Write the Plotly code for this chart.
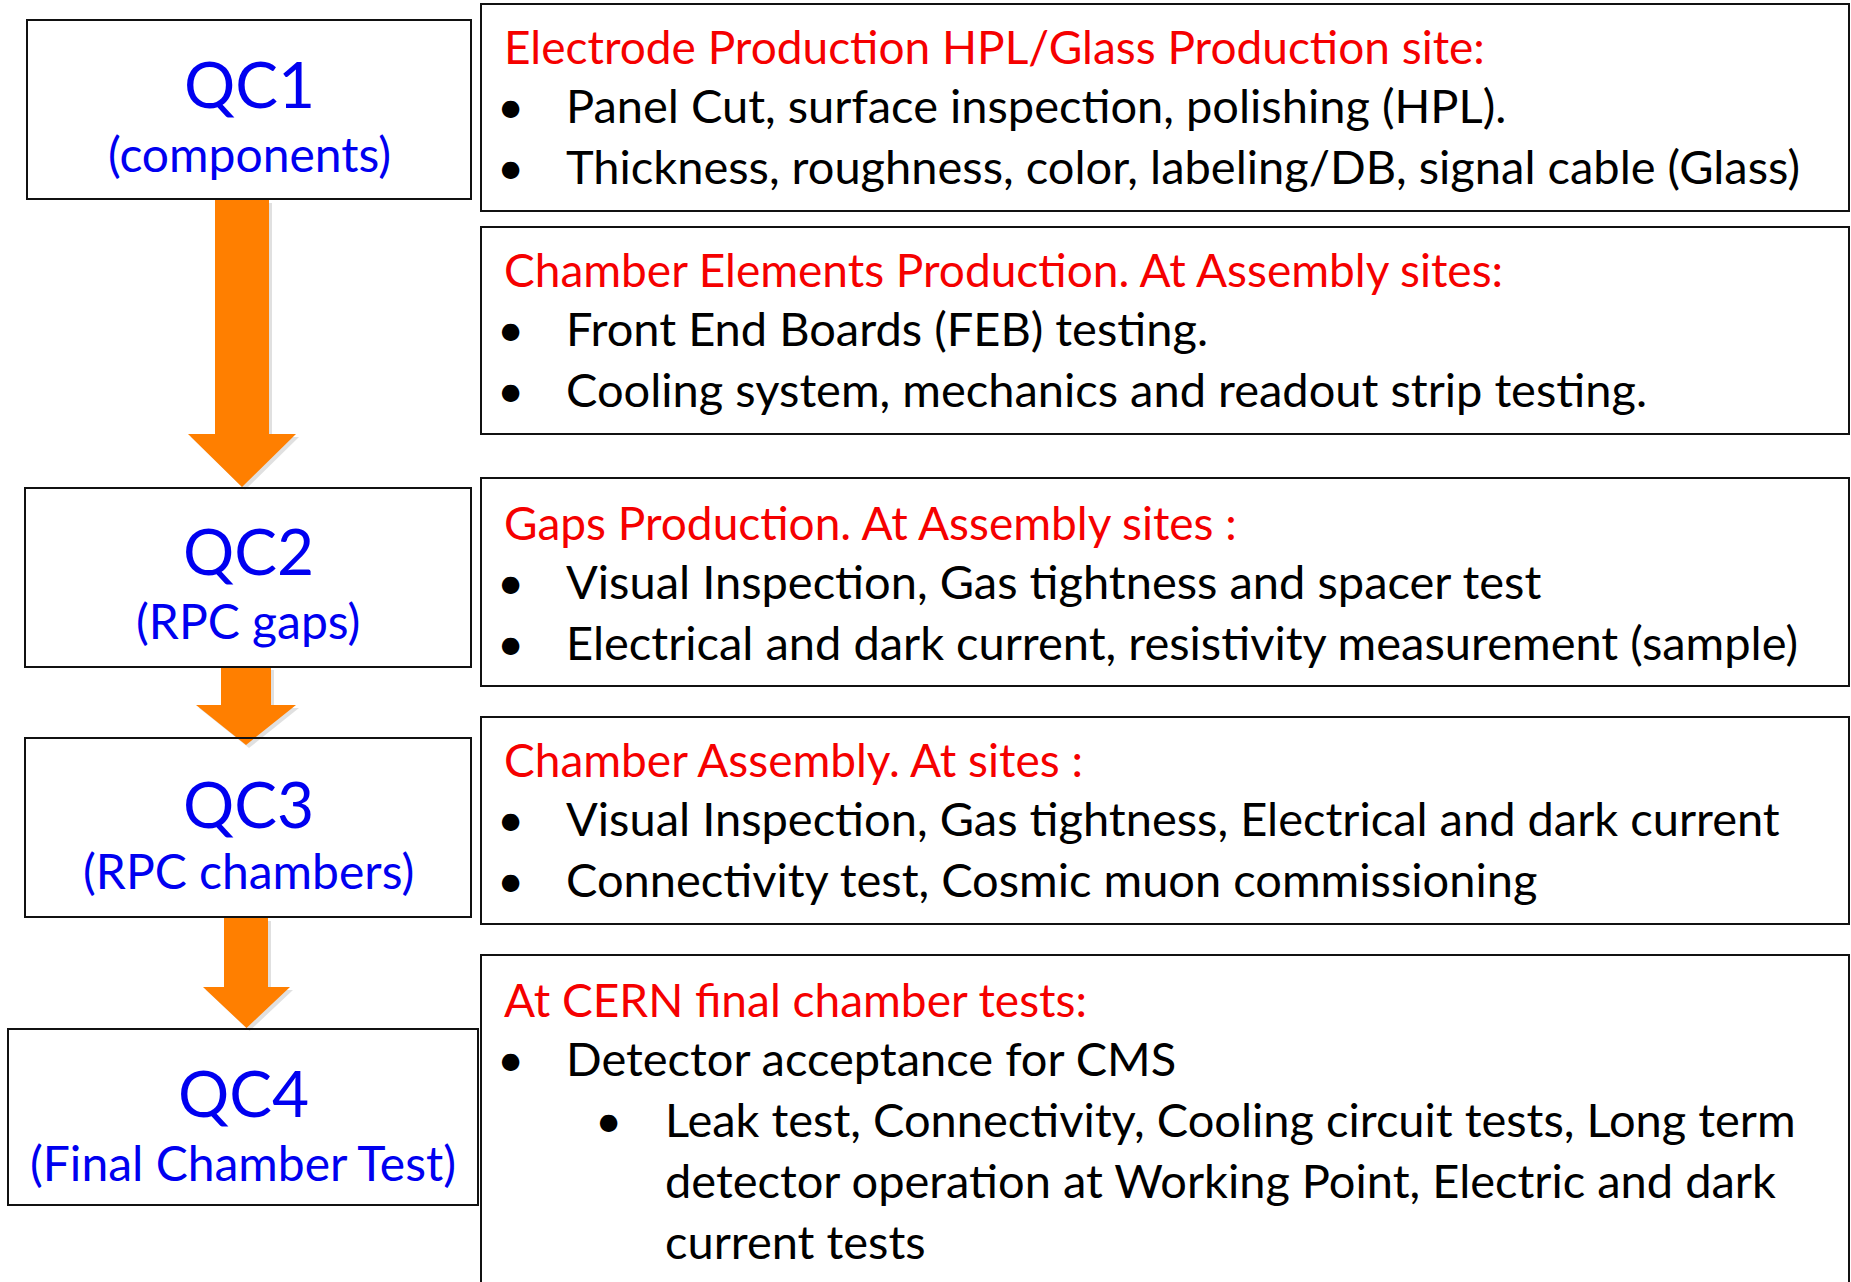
import plotly.graph_objects as go

# ---------------- content ----------------
qc_labels = ["QC1", "QC2", "QC3", "QC4"]
qc_sublabels = ["(components)", "(RPC gaps)", "(RPC chambers)", "(Final Chamber Test)"]

headers = [
    "Electrode Production HPL/Glass Production site:",
    "Chamber Elements Production. At Assembly sites:",
    "Gaps Production. At Assembly sites :",
    "Chamber Assembly. At sites :",
    "At CERN final chamber tests:",
]
bullets = [
    [(1, "Panel Cut, surface inspection, polishing (HPL)."),
     (1, "Thickness, roughness, color, labeling/DB, signal cable (Glass)")],
    [(1, "Front End Boards (FEB) testing."),
     (1, "Cooling system, mechanics and readout strip testing.")],
    [(1, "Visual Inspection, Gas tightness and spacer test"),
     (1, "Electrical and dark current, resistivity measurement (sample)")],
    [(1, "Visual Inspection, Gas tightness, Electrical and dark current"),
     (1, "Connectivity test, Cosmic muon commissioning")],
    [(1, "Detector acceptance for CMS"),
     (2, "Leak test, Connectivity, Cooling circuit tests, Long term"),
     (0, "detector operation at Working Point, Electric and dark"),
     (0, "current tests")],
]

# ---------------- layout geometry (pixels) ----------------
W, H = 1851, 1282
FONT = "Lato"
BLUE = "#0000F0"
RED = "#F50000"
ORANGE = "#FF7F00"

qc_boxes = [(27, 20, 471, 199), (25, 488, 471, 667), (25, 738, 471, 917), (8, 1029, 478, 1205)]
qc_centers = [249, 248, 248, 243]
qc_main_base = [108, 575, 828, 1117]
qc_sub_base = [172, 639, 889, 1181]
qc_main_size = 64
qc_sub_size = 48

right_boxes = [(481, 4, 1849, 211), (481, 227, 1849, 434), (481, 478, 1849, 686),
               (481, 717, 1849, 924), (481, 955, 1849, 1300)]
header_base = [64, 287, 540, 777, 1017]
line_step = 61
txt_size = 47
head_size = 46

# arrows: (shaft_x0, shaft_x1, y_top, y_neck, head_x0, head_x1, tip_y)
arrows = [(215, 269, 200, 434, 188, 296, 487),
          (221, 271, 667, 705, 196, 296, 745),
          (224, 268, 918, 987, 203, 290, 1028)]

K = 0.385  # baseline -> text-box-center offset factor


def yc(base, size):
    return base - K * size


fig = go.Figure()
shapes = []
ann = []

# arrows with subtle shadow
for (sx0, sx1, yt, yn, hx0, hx1, ty) in arrows:
    cx = (hx0 + hx1) / 2
    def path(dx, dy):
        pts = [(sx0, yt), (sx1, yt), (sx1, yn), (hx1, yn), (cx, ty), (hx0, yn), (sx0, yn)]
        return "M " + " L ".join(f"{x+dx},{y+dy}" for x, y in pts) + " Z"
    shapes.append(dict(type="path", path=path(3, 3), fillcolor="rgba(0,0,0,0.12)",
                       line=dict(width=0), layer="below"))
    shapes.append(dict(type="path", path=path(0, 0), fillcolor=ORANGE, line=dict(width=0)))

# boxes
for (x0, y0, x1, y1) in qc_boxes + right_boxes:
    shapes.append(dict(type="rect", x0=x0, y0=y0, x1=x1, y1=y1,
                       line=dict(color="#111111", width=2), fillcolor="rgba(0,0,0,0)"))

# QC labels
for i in range(4):
    ann.append(dict(x=qc_centers[i], y=yc(qc_main_base[i], qc_main_size), text=qc_labels[i],
                    xanchor="center", yanchor="middle", showarrow=False,
                    font=dict(family=FONT, size=qc_main_size, color=BLUE)))
    ann.append(dict(x=qc_centers[i], y=yc(qc_sub_base[i], qc_sub_size), text=qc_sublabels[i],
                    xanchor="center", yanchor="middle", showarrow=False,
                    font=dict(family=FONT, size=qc_sub_size, color=BLUE)))

# right panels
for i, head in enumerate(headers):
    ann.append(dict(x=502, y=yc(header_base[i], head_size), text=head, xanchor="left",
                    yanchor="middle", showarrow=False,
                    font=dict(family=FONT, size=head_size, color=RED)))
    for j, (lvl, t) in enumerate(bullets[i]):
        b = header_base[i] + (j + 1) * line_step - 2
        if lvl == 2:
            dot_x, tx = 608, 663
        else:
            dot_x, tx = 510, 564
        if lvl == 0:
            tx = 663
        if lvl in (1, 2):
            ann.append(dict(x=dot_x, y=yc(b, txt_size), text="•", xanchor="center",
                            yanchor="middle", showarrow=False,
                            font=dict(family=FONT, size=txt_size, color="black")))
        ann.append(dict(x=tx, y=yc(b, txt_size), text=t, xanchor="left", yanchor="middle",
                        showarrow=False, font=dict(family=FONT, size=txt_size, color="black")))

fig.update_layout(
    width=W, height=H, margin=dict(l=0, r=0, t=0, b=0),
    paper_bgcolor="white", plot_bgcolor="white",
    xaxis=dict(range=[0, W], visible=False, fixedrange=True),
    yaxis=dict(range=[H, 0], visible=False, fixedrange=True),
    shapes=shapes, annotations=ann, showlegend=False,
)
fig.write_html("out.html", config={"displayModeBar": False},
               post_script="document.body.style.margin='0';document.body.style.overflow='hidden';")
